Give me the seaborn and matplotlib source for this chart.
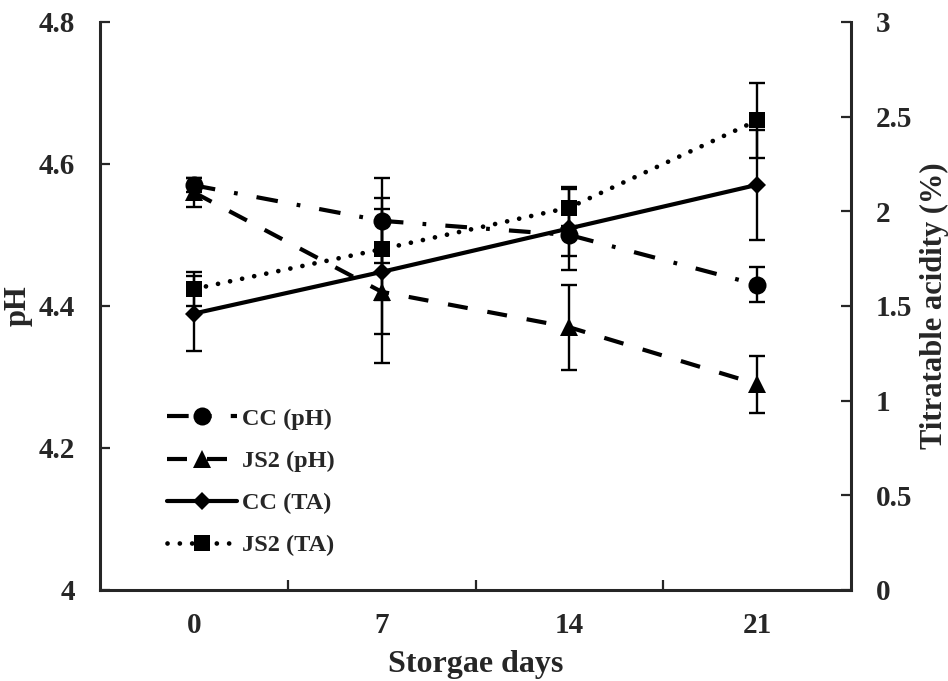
import numpy as np
import pandas as pd
import matplotlib
matplotlib.use("Agg")
import matplotlib.pyplot as plt
import seaborn as sns

# storage days (category axis)
days = ["0", "7", "14", "21"]

# pH means and error
cc_ph = [4.57, 4.52, 4.50, 4.43]
cc_ph_err = [0.01, 0.06, 0.03, 0.025]
js2_ph = [4.56, 4.42, 4.37, 4.29]
js2_ph_err = [0.02, 0.10, 0.06, 0.04]

# titratable acidity means and error
cc_ta = [1.46, 1.68, 1.91, 2.14]
cc_ta_err = [0.20, 0.33, 0.22, 0.29]
js2_ta = [1.59, 1.80, 2.02, 2.48]
js2_ta_err = [0.09, 0.27, 0.10, 0.20]

sns.set_style("ticks")
plt.rcParams['font.family'] = ['Liberation Serif', 'DejaVu Serif']
plt.rcParams['font.weight'] = 'bold'

pos = np.arange(len(days))
df = pd.DataFrame({"pos": pos, "cc_ph": cc_ph, "js2_ph": js2_ph,
                   "cc_ta": cc_ta, "js2_ta": js2_ta})

fig = plt.figure(figsize=(9.48, 6.81), dpi=100)
ax = fig.add_axes([100 / 948, 1 - 590 / 681, 751 / 948, 568 / 681])
ax2 = ax.twinx()

lw = 3.0
eb = dict(fmt='none', ecolor='black', elinewidth=1.7, capsize=5.5, capthick=1.7, zorder=2)

# error bars first
ax.errorbar(pos, cc_ph, yerr=cc_ph_err, **eb)
ax.errorbar(pos, js2_ph, yerr=js2_ph_err, **eb)
ax2.errorbar(pos, cc_ta, yerr=cc_ta_err, **eb)
ax2.errorbar(pos, js2_ta, yerr=js2_ta_err, **eb)

sns.lineplot(data=df, x="pos", y="cc_ph", ax=ax, color="black", lw=lw,
             linestyle=(0, (5.2, 4.6, 0.9, 4.6)), marker="o", markersize=13,
             markeredgewidth=0, label="CC (pH)", zorder=3)
sns.lineplot(data=df, x="pos", y="js2_ph", ax=ax, color="black", lw=lw,
             linestyle=(0, (4.8, 4.8)), marker="^", markersize=13,
             markeredgewidth=0, label="JS2 (pH)", zorder=3)
sns.lineplot(data=df, x="pos", y="cc_ta", ax=ax2, color="black", lw=lw,
             linestyle="-", marker="D", markersize=9,
             markeredgewidth=0, label="CC (TA)", zorder=3)
sns.lineplot(data=df, x="pos", y="js2_ta", ax=ax2, color="black", lw=lw + 0.4,
             linestyle=(0, (0.01, 2.6)), dash_capstyle="round", marker="s",
             markersize=12, markeredgewidth=0, label="JS2 (TA)", zorder=3)

ax.set_xlim(-0.5, len(days) - 0.5)
ax.set_ylim(4.0, 4.8)
ax.set_yticks([4.0, 4.2, 4.4, 4.6, 4.8])
ax.set_yticklabels(["4", "4.2", "4.4", "4.6", "4.8"])
ax2.set_ylim(0, 3)
ax2.set_yticks([0, 0.5, 1, 1.5, 2, 2.5, 3])
ax2.set_yticklabels(["0", "0.5", "1", "1.5", "2", "2.5", "3"])

ax.set_xticks(pos)
ax.set_xticklabels(days)
ax.set_xticks(pos[:-1] + 0.5, minor=True)
ax.tick_params(axis="x", which="major", length=0, pad=16, labelsize=21)
ax.tick_params(axis="x", which="minor", direction="in", length=7, width=1.6)
ax.tick_params(axis="y", direction="in", length=7, width=1.6, labelsize=21, pad=18)
ax2.tick_params(axis="y", direction="in", length=7, width=1.6, labelsize=21, pad=18)

for a in (ax, ax2):
    a.spines["top"].set_visible(False)
    for s in ("left", "right", "bottom"):
        a.spines[s].set_linewidth(2.2)
ax.spines["right"].set_visible(False)
ax2.spines["left"].set_visible(False)
ax2.spines["bottom"].set_visible(False)

ax.set_xlabel("Storgae days", fontsize=23, fontweight="bold", labelpad=8)
ax.set_ylabel("pH", fontsize=22, fontweight="bold", labelpad=4)
ax2.set_ylabel("Titratable acidity (%)", fontsize=22, fontweight="bold", labelpad=5)

h1, l1 = ax.get_legend_handles_labels()
h2, l2 = ax2.get_legend_handles_labels()
for a in (ax, ax2):
    if a.get_legend():
        a.get_legend().remove()
ax2.legend(h1 + h2, l1 + l2, loc="upper left",
           bbox_to_anchor=(45 / 751, 1 - 364 / 568), frameon=False,
           handlelength=2.9, handletextpad=0.2, labelspacing=0.83,
           prop={"size": 17.5, "weight": "bold"})

fig.savefig("out.png", dpi=100)
